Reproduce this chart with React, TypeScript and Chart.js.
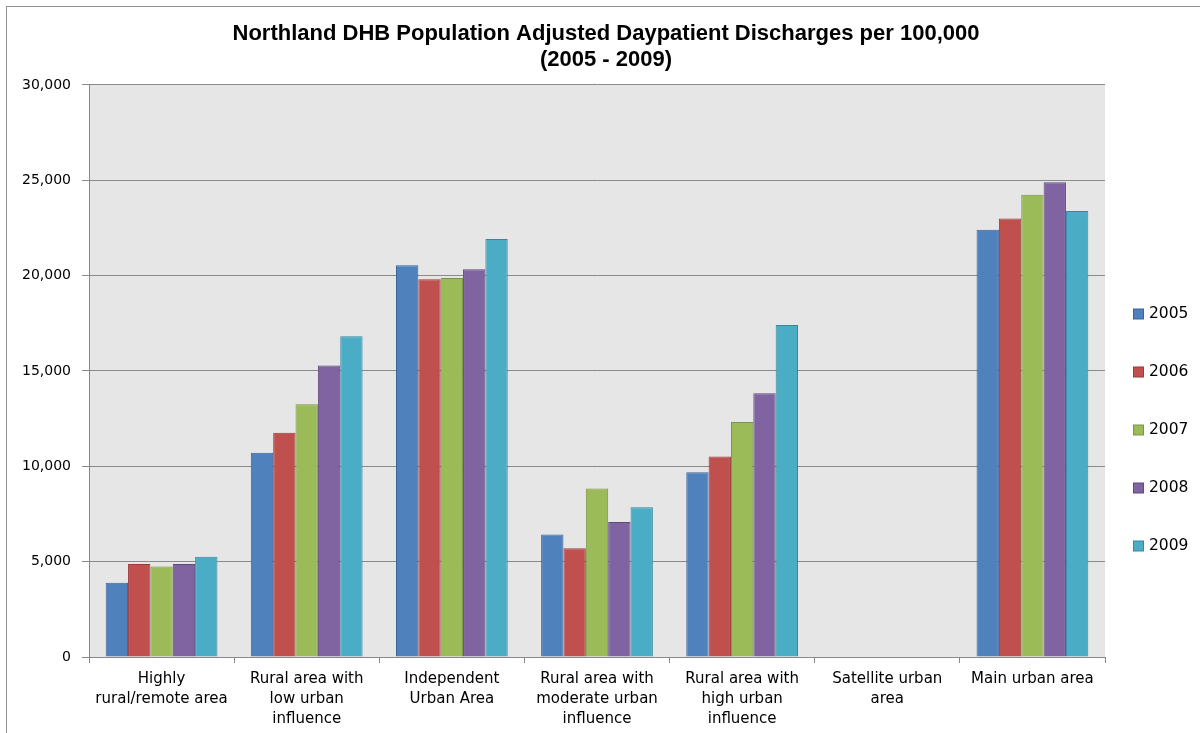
import React, { useEffect, useRef } from "react";
import { Chart, registerables } from "chart.js";

Chart.register(...registerables);

const categories: string[][] = [
  ["Highly", "rural/remote area"],
  ["Rural area with", "low urban", "influence"],
  ["Independent", "Urban Area"],
  ["Rural area with", "moderate urban", "influence"],
  ["Rural area with", "high urban", "influence"],
  ["Satellite urban", "area"],
  ["Main urban area"],
];

const years = ["2005", "2006", "2007", "2008", "2009"];

const values2005 = [3900, 10710, 20540, 6430, 9690, 0, 22410];
const values2006 = [4880, 11760, 19810, 5700, 10520, 0, 23000];
const values2007 = [4740, 13250, 19880, 8830, 12320, 0, 24240];
const values2008 = [4880, 15280, 20330, 7080, 13830, 0, 24890];
const values2009 = [5260, 16820, 21920, 7850, 17410, 0, 23390];

const seriesValues = [values2005, values2006, values2007, values2008, values2009];

const fillColors = ["#4F81BD", "#C0504D", "#9BBB59", "#8064A2", "#4BACC6"];
const borderColors = ["#3A659B", "#9A3B39", "#7A9644", "#5F4A80", "#35899F"];

const titleLines = [
  "Northland DHB Population Adjusted Daypatient Discharges per 100,000",
  "(2005 - 2009)",
];

const plotBackground = {
  id: "plotBackground",
  beforeDraw(chart: any) {
    const { ctx, chartArea } = chart;
    ctx.save();
    ctx.fillStyle = "#E6E6E6";
    ctx.fillRect(chartArea.left, chartArea.top, chartArea.right - chartArea.left, chartArea.bottom - chartArea.top);
    ctx.restore();
  },
};

const sideLegend = {
  id: "sideLegend",
  afterDraw(chart: any) {
    const { ctx } = chart;
    ctx.save();
    ctx.font = "15.5px 'DejaVu Sans'";
    ctx.textBaseline = "middle";
    ctx.textAlign = "left";
    chart.data.datasets.forEach((ds: any, i: number) => {
      const cy = 314 + i * 58;
      ctx.fillStyle = ds.backgroundColor;
      ctx.fillRect(1133.5, cy - 5, 10, 10);
      ctx.strokeStyle = ds.borderColor;
      ctx.lineWidth = 1;
      ctx.strokeRect(1133.5, cy - 5, 10, 10);
      ctx.fillStyle = "#000";
      ctx.fillText(ds.label, 1149, cy);
    });
    ctx.restore();
  },
};

function BarChart() {
  const ref = useRef<HTMLCanvasElement | null>(null);
  useEffect(() => {
    if (!ref.current) return;
    const chart = new Chart(ref.current, {
      type: "bar",
      data: {
        labels: categories,
        datasets: years.map((y, i) => ({
          label: y,
          data: seriesValues[i],
          backgroundColor: fillColors[i],
          borderColor: borderColors[i],
          borderWidth: 1,
          categoryPercentage: 0.77,
          barPercentage: 1,
        })),
      },
      options: {
        animation: false,
        responsive: true,
        maintainAspectRatio: false,
        layout: { padding: { left: 12, right: 0, top: 0, bottom: 0 } },
        plugins: {
          legend: { display: false },
          tooltip: { enabled: false },
          title: {
            display: true,
            text: titleLines,
            color: "#000",
            font: { family: "'Liberation Sans', Arial, sans-serif", size: 22, weight: "bold", lineHeight: 1.18 },
            padding: { top: 21, bottom: 12 },
          },
        },
        scales: {
          x: {
            grid: {
              display: true,
              drawOnChartArea: false,
              drawTicks: true,
              tickLength: 6,
              offset: true,
              color: "#878787",
            },
            border: { display: true, color: "#878787" },
            ticks: {
              color: "#000",
              font: { family: "'DejaVu Sans'", size: 15, lineHeight: 1.333 },
              padding: 6,
              maxRotation: 0,
              autoSkip: false,
            },
            afterFit(scale: any) {
              scale.height = 76;
            },
          },
          y: {
            min: 0,
            max: 30000,
            ticks: {
              stepSize: 5000,
              color: "#000",
              font: { family: "'DejaVu Sans'", size: 14 },
              padding: 11,
              callback: (v: any) => Number(v).toLocaleString("en-US"),
            },
            grid: { color: "#8A8A8A", tickLength: 7, drawTicks: true },
            border: { display: true, color: "#878787" },
            afterFit(scale: any) {
              scale.width = 77;
            },
          },
          legendSpace: {
            type: "linear",
            position: "right",
            display: true,
            grid: { display: false },
            border: { display: false },
            ticks: { display: false },
            afterFit(scale: any) {
              scale.width = 95;
            },
          },
        },
      },
      plugins: [plotBackground, sideLegend],
    });
    return () => chart.destroy();
  }, []);
  return <canvas ref={ref} />;
}

export default function App() {
  return (
    <div style={{ position: "fixed", left: 0, top: 0, width: 1200, height: 733, background: "#fff", overflow: "hidden" }}>
      <div
        style={{
          position: "absolute",
          left: 6,
          top: 6,
          width: 1300,
          height: 800,
          borderLeft: "1px solid #909090",
          borderTop: "1px solid #909090",
          boxSizing: "border-box",
        }}
      />
      <div style={{ position: "absolute", left: 0, top: 0, width: 1200, height: 733 }}>
        <BarChart />
      </div>
    </div>
  );
}
